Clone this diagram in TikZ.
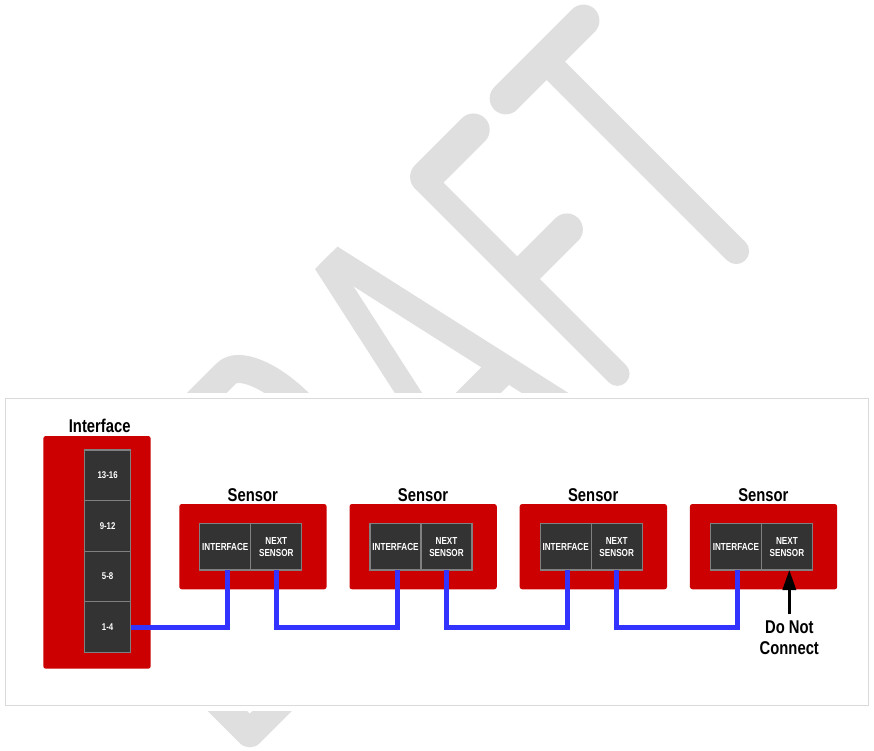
\documentclass[tikz,border=0pt]{standalone}
\usepackage{fontspec}
\setmainfont{Liberation Sans}
\newfontfamily\narrowfont{Liberation Sans}[FakeStretch=0.8]
\usetikzlibrary{arrows.meta}
\definecolor{cRed}{HTML}{CC0000}
\definecolor{cCell}{HTML}{333333}
\definecolor{cCellBorder}{HTML}{808080}
\definecolor{cBlue}{HTML}{3333FF}
\definecolor{cWm}{HTML}{DFDFDF}
\definecolor{cFrame}{HTML}{DADADA}
\begin{document}
\begin{tikzpicture}[x=1pt,y=-1pt,
  redbox/.style={fill=cRed, draw=none, rounded corners=2.5pt, inner sep=0pt, outer sep=0pt},
  cell/.style={fill=cCell, draw=cCellBorder, line width=1.2pt, inner sep=0pt, outer sep=0pt,
    text=white, align=center, font=\narrowfont\bfseries\fontsize{10.2}{11.8}\selectfont},
  portcell/.style={cell, font=\narrowfont\bfseries\fontsize{9.8}{11}\selectfont},
  wire/.style={draw=cBlue, line width=5pt, line join=miter},
  biglabel/.style={font=\narrowfont\bfseries\fontsize{18.5}{21}\selectfont, text=black, inner sep=0pt},
  arrowline/.style={draw=black, line width=2.7pt, -{Triangle[length=20pt,width=13.3pt]}},
  wmark/.style={draw=cWm, line cap=round, line join=round},
  wmarkflat/.style={draw=cWm, line cap=butt}]
\useasboundingbox (0,0) rectangle (874,750);
% ---------------- DRAFT watermark ----------------
\begin{scope}[shift={(500,500)}, x={(0.7071pt,0.7071pt)}, y={(-0.7071pt,0.7071pt)}]
  % D
  \draw[wmark, line width=28pt] (-342,12) -- (-342,280) -- (-286,280)
     .. controls (-252.9,280) and (-226,220) .. (-226,146)
     .. controls (-226,72) and (-252.9,12) .. (-286,12) -- cycle;
  % R
  \draw[wmark, line width=28pt] (-173,10) -- (-173,283) -- (-103.7,283)
     .. controls (-87,283) and (-73.5,250.3) .. (-73.5,210)
     .. controls (-73.5,169.7) and (-87,137) .. (-103.7,137) -- (-173,137);
  \draw[wmark, line width=26pt] (-112,137) -- (-62,10);
  % A
  \begin{scope}
    \clip (-80,-5) -- (180,-5) -- (180,294) -- (-80,294) -- cycle;
    \draw[wmarkflat, line width=23pt] (-21.7,-10) -- (49.9,320);
    \draw[wmarkflat, line width=25pt] (119.6,-10) -- (45.7,320);
    \draw[wmarkflat, line width=32pt] (0,91) -- (97,91);
  \end{scope}
  % F
  \draw[wmark, line width=24.5pt] (172.3,6.4) -- (172.3,280.6);
  \draw[wmark, line width=32.6pt] (176.5,280.6) -- (243,280.6);
  \draw[wmark, line width=32pt] (176.5,144) -- (238.6,144);
  % T
  \draw[wmark, line width=32pt] (288,280) -- (398,280);
  \draw[wmark, line width=26pt] (343,9) -- (343,280);
\end{scope}
% ---------------- diagram panel ----------------
\fill[white] (0,393) rectangle (874,710.5);
\draw[cFrame, line width=1pt] (5.7,398.3) rectangle (868.3,705);
% Interface unit
\node[redbox, minimum width=107.4pt, minimum height=232.7pt] (iface) at (97,552.35) {};
\node[biglabel, anchor=base] (ilab) at (99.7,432.5) {Interface};
\node[portcell, minimum width=46.2pt, minimum height=50.6pt] (p4) at (107.6,475.3) {13-16};
\node[portcell, minimum width=46.2pt, minimum height=50.6pt] (p3) at (107.6,525.9) {9-12};
\node[portcell, minimum width=46.2pt, minimum height=50.6pt] (p2) at (107.6,576.5) {5-8};
\node[portcell, minimum width=46.2pt, minimum height=50.6pt] (p1) at (107.6,627.1) {1-4};
% Sensors
\foreach \k in {1,2,3,4}{
  \pgfmathsetmacro{\L}{179.3+170.2*(\k-1)}
  \node[redbox, minimum width=147.3pt, minimum height=85.3pt] (box\k) at (\L+73.65,546.65) {};
  \node[biglabel, anchor=base] (lab\k) at (\L+73.5,501) {Sensor};
  \node[cell, minimum width=51pt, minimum height=46.5pt] (si\k) at (\L+46,546.75) {INTERFACE};
  \node[cell, minimum width=51pt, minimum height=46.5pt] (sn\k) at (\L+97,546.75) {NEXT\\SENSOR};
}
% Wires
\draw[wire] (p1.east) -| ([xshift=2pt]si1.south);
\foreach \k/\j in {1/2,2/3,3/4}{
  \draw[wire] (sn\k.south) -- ([yshift=-57pt]sn\k.south) -| ([xshift=2pt]si\j.south);
}
% Do Not Connect
\node[biglabel, align=center, anchor=north] (dnc) at (789.3,620.7) {Do Not\\Connect};
\path (dnc.north) ++(0,-6.4) coordinate (dtail);
\draw[arrowline] (dtail) -- (dtail |- sn4.south);
\end{tikzpicture}
\end{document}
